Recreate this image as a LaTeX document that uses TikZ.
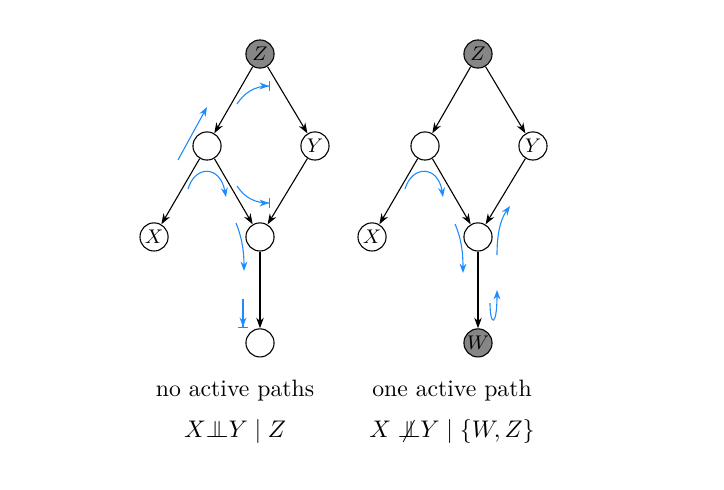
\documentclass[tikz,border=0pt]{standalone}
\usepackage{amsmath}
\usepackage{amssymb}
\usetikzlibrary{arrows.meta, positioning}
\definecolor{flowblue}{RGB}{30,140,255}
\newcommand{\indepsym}{\mathord{\perp\mkern-11mu\perp}}
\newcommand{\nindepsym}{\mathord{\ooalign{$\indepsym$\cr\hidewidth$\not\mathrel{\phantom{=}}$\hidewidth\cr}}}

\begin{document}
\begin{tikzpicture}[x=0.016cm, y=-0.016cm, on grid, font=\fontsize{10.8pt}{13pt}\selectfont, line width=0.5pt]
    \tikzstyle{var} = [circle, draw, fill=white, minimum size=0.45cm,
        inner sep=0pt, font=\fontsize{8.6pt}{10pt}\selectfont]
    \tikzstyle{obs} = [var, fill=gray!95]
    \tikzstyle{edge} = [draw, -{Stealth[length=1.7mm, width=1.2mm]}]
    \tikzstyle{flow} = [draw, flowblue, -{Stealth[length=1.5mm, width=1.1mm]}]
    \tikzstyle{blocked} = [draw, flowblue, -{Stealth[length=1.5mm, width=1.1mm] Bar[width=1.6mm]}]

    \useasboundingbox (0,0) rectangle (724,489);

    % left graph: conditioning on Z
    \node [obs] (lz) at (260,54) {$Z$};
    \node [var] (la) [below left=1.472cm and 0.848cm of lz] {};
    \node [var] (ly) [below right=1.472cm and 0.88cm of lz] {$Y$};
    \node [var] (lx) [below left=1.456cm and 0.848cm of la] {$X$};
    \node [var] (lc) [below right=1.456cm and 0.848cm of la] {};
    \node [var] (ld) [below=1.696cm of lc] {};

    \path [edge] (lz) -- (la);
    \path [edge] (lz) -- (ly);
    \path [edge] (la) -- (lx);
    \path [edge] (la) -- (lc);
    \path [edge] (ly) -- (lc);
    \path [edge] (lc) -- (ld);

    \path [flow] (178,160) -- (207,107);
    \path [blocked] (237,104) .. controls (245,92) and (255,86) .. (270,86);
    \path [flow] (188,189) .. controls (195,165) and (220,165) .. (226,197);
    \path [blocked] (237,186) .. controls (245,198) and (255,203) .. (270,203);
    \path [flow] (236,223) .. controls (243,240) and (244,255) .. (244,271);
    \path [blocked] (243,299) -- (243,328);

    % right graph: conditioning on W and Z
    \node [obs] (rz) at (478,54) {$Z$};
    \node [var] (ra) [below left=1.472cm and 0.848cm of rz] {};
    \node [var] (ry) [below right=1.472cm and 0.88cm of rz] {$Y$};
    \node [var] (rx) [below left=1.456cm and 0.848cm of ra] {$X$};
    \node [var] (rc) [below right=1.456cm and 0.848cm of ra] {};
    \node [obs] (rw) [below=1.696cm of rc] {$W$};

    \path [edge] (rz) -- (ra);
    \path [edge] (rz) -- (ry);
    \path [edge] (ra) -- (rx);
    \path [edge] (ra) -- (rc);
    \path [edge] (ry) -- (rc);
    \path [edge] (rc) -- (rw);

    \path [flow] (405,189) .. controls (412,165) and (438,165) .. (443,197);
    \path [flow] (455,224) .. controls (462,240) and (463,255) .. (463,273);
    \path [flow] (497,255) .. controls (497,235) and (500,220) .. (510,206);
    \path [flow] (490,303) .. controls (490,327) and (497,327) .. (497,290);

    % captions
    \node (lcap) at (235,391) {no active paths};
    \node (lrel) at (235,431) {$X \indepsym Y \mid Z$};
    \node (rcap) at (452,391) {one active path};
    \node (rrel) at (452,431) {$X \;\nindepsym Y \mid \{W, Z\}$};
\end{tikzpicture}
\end{document}
